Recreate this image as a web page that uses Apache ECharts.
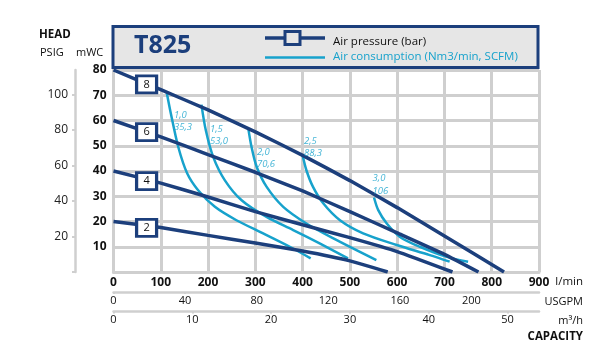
<!DOCTYPE html>
<html>
<head>
<meta charset="utf-8">
<script src="https://cdn.jsdelivr.net/npm/echarts@6/dist/echarts.min.js"></script>
<style>html,body{margin:0;padding:0;background:#fff}#c{width:616px;height:356px}</style>
</head>
<body>
<div id="c"></div>
<script>
// ---- data ----
const modelName = 'T825';
const flowTicks = [0, 100, 200, 300, 400, 500, 600, 700, 800, 900]; // l/min
const headTicks = [10, 20, 30, 40, 50, 60, 70, 80]; // mWC
const psiTicks = [20, 40, 60, 80, 100];
const usgpmTicks = [0, 40, 80, 120, 160, 200];
const m3hTicks = [0, 10, 20, 30, 40, 50];

// air pressure lines (bar): [flow l/min, head mWC]
const pressureBars = ['2', '4', '6', '8'];
const p2 = [[0,20],[100,17.6],[200,14.5],[300,11.5],[400,8.3],[500,4.4],[580,0]];
const p4 = [[0,40],[100,35.2],[200,29.7],[300,23.9],[400,18.7],[500,13.6],[600,8.1],[717,0]];
const p6 = [[0,60],[100,53.5],[200,46.5],[300,39.5],[400,32.1],[500,23.9],[600,15.5],[700,7],[772,0]];
const p8 = [[0,80],[100,72.2],[200,64.2],[300,55.5],[400,46.2],[500,36.2],[600,25.5],[700,14.3],[826,0]];
const markerFlow = [70, 70, 70, 70];
const markerHead = [17.5, 36.0, 55.4, 74.3];

// air consumption curves (Nm3/min / SCFM)
const airNm3 = ['1,0', '1,5', '2,0', '2,5', '3,0'];
const airScfm = ['35,3', '53,0', '70,6', '88,3', '106'];
const a10 = [[112,71.6],[121.5,62.6],[137,49.5],[156,39],[179,32.4],[214.5,25.8],[260,20.5],[316.5,15.3],[373,10],[417,5.4]];
const a15 = [[186,66.3],[195.4,56],[211,45.5],[235.6,36.3],[271,28.4],[323.7,21.8],[380,16.6],[436,11.3],[496,5.4]];
const a20 = [[285,57],[292,49.5],[303,41.6],[324,33.7],[359,25.8],[408,19.2],[465,13.3],[556,4.7]];
const a25 = [[400,46.2],[408,40.3],[422,33.7],[444,27.1],[479,20.5],[528,15.3],[599,10.7],[669,6.7],[711,4.1]];
const a30 = [[551,29.5],[560,24.5],[578,19.2],[606,13.9],[648,10],[705,6],[750,4.1]];
const airLabelFlow = [128, 204, 303.5, 403, 548];
const airLabelHead = [59.6, 54.1, 45.0, 49.4, 34.6];

// unit conversions for secondary axes
const LPM_PER_USGPM = 3.78541;
const LPM_PER_M3H = 1000 / 60;
const MWC_PER_PSI = 0.70307;

// ---- styling ----
const DARK = '#1c3f7c';
const CYAN = '#17a2cc';
const GRID = '#cfcfcf';
const FONT = '"Open Sans", sans-serif';

const chart = echarts.init(document.getElementById('c'), null, {renderer: 'canvas'});

function lineSeries(data, color, width, z, smooth) {
  return {type: 'line', data: data, xAxisIndex: 0, yAxisIndex: 0, symbol: 'none', smooth: smooth,
    lineStyle: {color: color, width: width, cap: 'butt'}, z: z, silent: true, animation: false};
}

const tickFmt = (ticks) => (v) => ticks.indexOf(Math.round(v * 1000) / 1000) >= 0 ? String(v) : '';

const option = {
  animation: false,
  backgroundColor: '#fff',
  grid: {left: 113.5, top: 70, width: 425.5, height: 202, containLabel: false},
  xAxis: [
    {type: 'value', min: 0, max: 900, interval: 100, position: 'bottom',
      axisLine: {show: true, onZero: false, lineStyle: {color: GRID, width: 3}},
      axisTick: {show: false},
      splitLine: {show: true, lineStyle: {color: GRID, width: 3}},
      axisLabel: {fontFamily: FONT, fontWeight: 'bold', fontSize: 12, color: '#111', margin: 5,
        showMinLabel: true, showMaxLabel: true, hideOverlap: false, formatter: tickFmt(flowTicks)}},
    {type: 'value', min: 0, max: 900 / LPM_PER_USGPM, interval: 40, position: 'bottom', offset: 20,
      axisLine: {show: true, onZero: false, lineStyle: {color: GRID, width: 2.5}},
      axisTick: {show: true, length: 2, lineStyle: {color: GRID, width: 2}},
      splitLine: {show: false},
      axisLabel: {fontFamily: FONT, fontSize: 11, color: '#111', margin: 3,
        showMinLabel: true, showMaxLabel: false, hideOverlap: false, formatter: tickFmt(usgpmTicks)}},
    {type: 'value', min: 0, max: 900 / LPM_PER_M3H, interval: 10, position: 'bottom', offset: 39.5,
      axisLine: {show: true, onZero: false, lineStyle: {color: GRID, width: 2.5}},
      axisTick: {show: true, length: 2, lineStyle: {color: GRID, width: 2}},
      splitLine: {show: false},
      axisLabel: {fontFamily: FONT, fontSize: 11, color: '#111', margin: 3,
        showMinLabel: true, showMaxLabel: false, hideOverlap: false, formatter: tickFmt(m3hTicks)}}
  ],
  yAxis: [
    {type: 'value', min: 0, max: 80, interval: 10, position: 'left',
      axisLine: {show: true, onZero: false, lineStyle: {color: GRID, width: 3}},
      axisTick: {show: false},
      splitLine: {show: true, lineStyle: {color: GRID, width: 3}},
      axisLabel: {fontFamily: FONT, fontWeight: 'bold', fontSize: 12, color: '#111', margin: 7,
        showMaxLabel: true, hideOverlap: false, formatter: tickFmt(headTicks)}},
    {type: 'value', min: 0, max: 80 / MWC_PER_PSI, interval: 20, position: 'left', offset: 38.5,
      axisLine: {show: true, onZero: false, lineStyle: {color: GRID, width: 2.5}},
      axisTick: {show: true, length: 3, lineStyle: {color: GRID, width: 2}},
      splitLine: {show: false},
      axisLabel: {fontFamily: FONT, fontSize: 12, color: '#222', margin: 7,
        showMaxLabel: false, hideOverlap: false, formatter: tickFmt(psiTicks)}}
  ],
  series: [
    lineSeries(a10, CYAN, 2.5, 3, 0.3), lineSeries(a15, CYAN, 2.5, 3, 0.3), lineSeries(a20, CYAN, 2.5, 3, 0.3),
    lineSeries(a25, CYAN, 2.5, 3, 0.3), lineSeries(a30, CYAN, 2.5, 3, 0.3),
    lineSeries(p2, DARK, 3.5, 4, 0.15), lineSeries(p4, DARK, 3.5, 4, 0.15), lineSeries(p6, DARK, 3.5, 4, 0.15), lineSeries(p8, DARK, 3.5, 4, 0.15),
    {type: 'scatter', xAxisIndex: 0, yAxisIndex: 0, z: 6, silent: true,
      symbol: 'rect', symbolSize: [20, 17],
      itemStyle: {color: '#fff', borderColor: DARK, borderWidth: 3, opacity: 1},
      label: {show: true, position: 'inside', fontFamily: FONT, fontSize: 11, color: '#111',
        formatter: (p) => pressureBars[p.dataIndex]},
      data: markerFlow.map((f, i) => [f, markerHead[i]])},
    {type: 'scatter', xAxisIndex: 0, yAxisIndex: 0, z: 7, silent: true,
      symbolSize: 0,
      label: {show: true, position: 'right', distance: 0, fontFamily: FONT, fontStyle: 'italic',
        fontSize: 9.5, lineHeight: 12.5, color: CYAN, align: 'left',
        formatter: (p) => airNm3[p.dataIndex] + '\n' + airScfm[p.dataIndex]},
      data: airLabelFlow.map((f, i) => [f, airLabelHead[i]])}
  ],
  graphic: [
    {type: 'rect', shape: {x: 113, y: 26.5, width: 425, height: 41}, z: 10,
      style: {fill: '#e6e6e6', stroke: DARK, lineWidth: 3}},
    {type: 'text', z: 11, style: {x: 134, y: 46, text: modelName, fill: DARK, fontFamily: FONT,
      fontWeight: 'bold', fontSize: 25, verticalAlign: 'middle', align: 'left'}},
    {type: 'line', z: 11, shape: {x1: 265, y1: 38, x2: 325, y2: 38}, style: {stroke: DARK, lineWidth: 3.5}},
    {type: 'rect', z: 12, shape: {x: 285, y: 31.5, width: 15, height: 13}, style: {fill: '#e6e6e6', stroke: DARK, lineWidth: 3}},
    {type: 'line', z: 11, shape: {x1: 265, y1: 57.5, x2: 325, y2: 57.5}, style: {stroke: CYAN, lineWidth: 2.5}},
    {type: 'text', z: 11, style: {x: 333, y: 42, text: 'Air pressure (bar)', fill: '#111', fontFamily: FONT,
      fontSize: 11.5, verticalAlign: 'middle', align: 'left'}},
    {type: 'text', z: 11, style: {x: 333, y: 57, text: 'Air consumption (Nm3/min, SCFM)', fill: CYAN, fontFamily: FONT,
      fontSize: 11.5, verticalAlign: 'middle', align: 'left'}},
    {type: 'text', style: {x: 39, y: 34.5, text: 'HEAD', fill: '#111', fontFamily: FONT, fontWeight: 'bold',
      fontSize: 11.5, verticalAlign: 'middle', align: 'left'}},
    {type: 'text', style: {x: 40, y: 53, text: 'PSIG', fill: '#111', fontFamily: FONT,
      fontSize: 11, verticalAlign: 'middle', align: 'left'}},
    {type: 'text', style: {x: 76, y: 53, text: 'mWC', fill: '#111', fontFamily: FONT,
      fontSize: 11, verticalAlign: 'middle', align: 'left'}},
    {type: 'text', style: {x: 583, y: 282, text: 'l/min', fill: '#111', fontFamily: FONT,
      fontSize: 11.5, verticalAlign: 'middle', align: 'right'}},
    {type: 'text', style: {x: 583, y: 301.5, text: 'USGPM', fill: '#111', fontFamily: FONT,
      fontSize: 11, verticalAlign: 'middle', align: 'right'}},
    {type: 'text', style: {x: 583, y: 321, text: 'm³/h', fill: '#111', fontFamily: FONT,
      fontSize: 11, verticalAlign: 'middle', align: 'right'}},
    {type: 'text', style: {x: 583, y: 337, text: 'CAPACITY', fill: '#111', fontFamily: FONT, fontWeight: 'bold',
      fontSize: 11.5, verticalAlign: 'middle', align: 'right'}}
  ]
};
chart.setOption(option);
</script>
</body>
</html>
